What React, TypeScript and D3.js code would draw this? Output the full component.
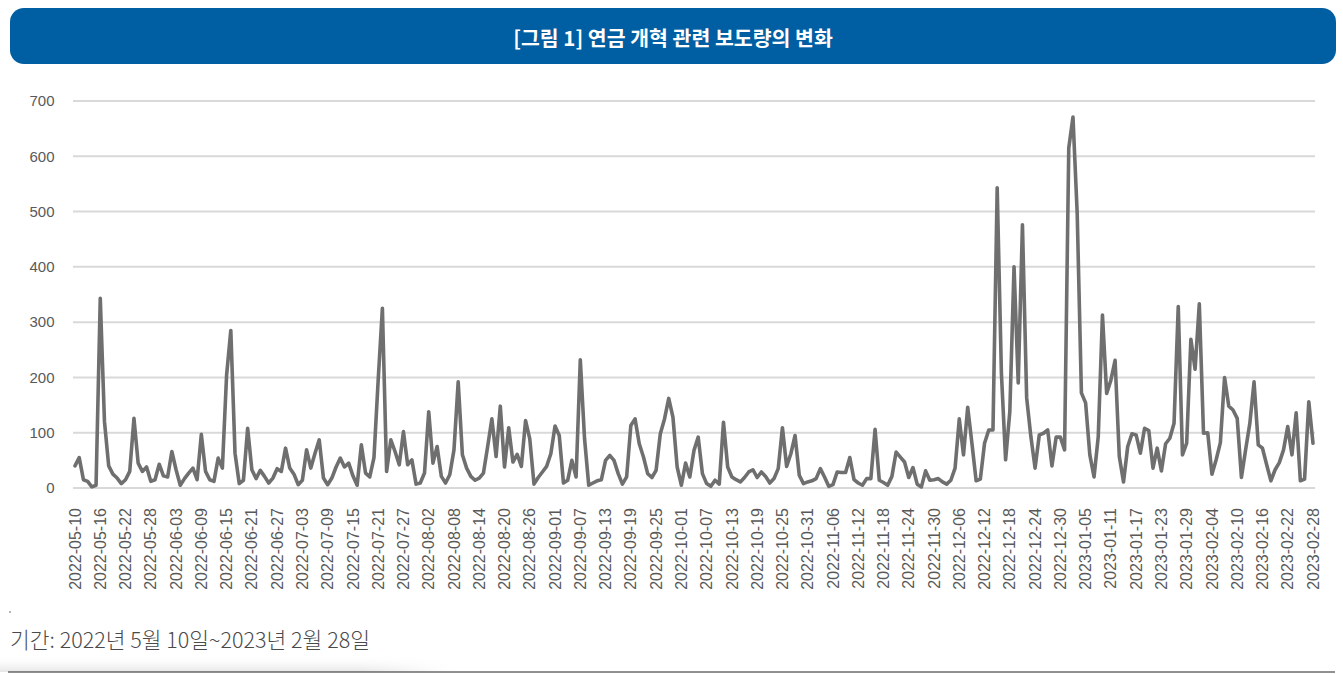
import React from "react";
import * as d3 from "d3";

const START_DATE = "2022-05-10";
const END_DATE = "2023-02-28";
const TITLE = "[그림 1] 연금 개혁 관련 보도량의 변화";
const FOOTNOTE = "기간: 2022년 5월 10일~2023년 2월 28일";
const Y_TICKS = [0, 100, 200, 300, 400, 500, 600, 700];
const LABEL_STEP_DAYS = 6;

const VALUES_MAY_JUN = [40, 55, 15, 12, 2, 5, 343, 120, 40, 25, 18, 8, 15, 30, 126, 45, 30, 38, 12, 15, 43, 22, 20, 66, 33, 5, 17, 27, 36, 15, 97];
const VALUES_JUN_JUL = [30, 15, 12, 54, 36, 204, 285, 63, 8, 14, 108, 33, 17, 32, 21, 9, 18, 35, 30, 72, 36, 25, 6, 14, 69, 36, 63, 87, 18, 6, 18, 38];
const VALUES_JUL_AUG = [54, 38, 45, 22, 5, 78, 27, 20, 55, 195, 325, 30, 87, 66, 42, 102, 42, 51, 7, 9, 27, 138, 45, 75, 21, 9, 24, 69, 192, 60, 36, 21, 14, 18, 27, 75];
const VALUES_AUG_SEP = [125, 57, 148, 38, 109, 47, 61, 39, 122, 89, 7, 19, 29, 39, 62, 112, 95, 9, 14, 50, 20, 232, 90, 5, 9, 13, 15, 50, 59, 50, 26, 7, 20];
const VALUES_SEP_OCT = [113, 125, 80, 56, 26, 19, 32, 98, 125, 162, 128, 38, 5, 45, 20, 68, 92, 26, 8, 3, 14, 7, 119, 38, 20, 15, 11, 19, 29, 33, 19, 29, 21, 9];
const VALUES_OCT_DEC = [17, 35, 109, 39, 62, 95, 23, 8, 11, 13, 17, 35, 20, 3, 6, 29, 28, 28, 55, 15, 9, 5, 17, 17, 106, 14, 10, 5, 21, 65, 56, 47, 19, 37, 7, 2, 31, 14, 15, 17, 11, 7, 14];
const VALUES_DEC_JAN = [36, 125, 60, 146, 81, 13, 16, 81, 105, 105, 543, 208, 51, 138, 400, 190, 476, 163, 93, 36, 96, 99, 105, 40, 92, 92, 69, 615, 671, 497, 172, 154, 60];
const VALUES_JAN_FEB = [20, 93, 313, 171, 195, 231, 57, 11, 75, 98, 96, 63, 108, 104, 36, 72, 31, 80, 90, 117, 328, 60, 81, 269, 215, 333, 99, 100, 25, 51, 82, 200, 148, 141, 126, 19, 69, 117, 192, 78, 72, 42, 13, 33, 46, 69, 111, 60, 136, 13, 16, 156, 81];

const VALUES = [
  ...VALUES_MAY_JUN,
  ...VALUES_JUN_JUL,
  ...VALUES_JUL_AUG,
  ...VALUES_AUG_SEP,
  ...VALUES_SEP_OCT,
  ...VALUES_OCT_DEC,
  ...VALUES_DEC_JAN,
  ...VALUES_JAN_FEB,
];

const parse = d3.utcParse("%Y-%m-%d");
const fmt = d3.utcFormat("%Y-%m-%d");
const DATES = d3.utcDay.range(parse(START_DATE) as Date, d3.utcDay.offset(parse(END_DATE) as Date, 1));

export default function App() {
  const W = 1343;
  const H = 674;
  const x = d3.scaleUtc().domain([DATES[0], DATES[DATES.length - 1]]).range([75, 1313]);
  const y = d3.scaleLinear().domain([0, 700]).range([488, 101]);
  const data = DATES.map((d, i) => ({ d, v: VALUES[i] ?? 0 }));
  const line = d3
    .line<{ d: Date; v: number }>()
    .x((p) => x(p.d))
    .y((p) => y(p.v));
  const labelDates = DATES.filter((_, i) => i % LABEL_STEP_DAYS === 0);
  const font = "'Noto Sans CJK KR', 'Noto Sans', sans-serif";
  const axisFont = "'Liberation Sans', Arial, sans-serif";

  return (
    <div style={{ position: "absolute", left: 0, top: 0, width: W, height: H, background: "#fff" }}>
      <svg width={W} height={H} viewBox={`0 0 ${W} ${H}`} style={{ display: "block" }}>
        <defs>
          <linearGradient id="footShade" x1="0" y1="0" x2="0" y2="1">
            <stop offset="0" stopColor="#ffffff" stopOpacity="0" />
            <stop offset="1" stopColor="#e6e6e6" stopOpacity="1" />
          </linearGradient>
          <linearGradient id="footShadeH" x1="0" y1="0" x2="1" y2="0">
            <stop offset="0" stopColor="#fff" stopOpacity="0" />
            <stop offset="0.8" stopColor="#fff" stopOpacity="0" />
            <stop offset="1" stopColor="#fff" stopOpacity="1" />
          </linearGradient>
        </defs>
        <rect x={0} y={0} width={W} height={H} fill="#ffffff" />
        <rect x={10} y={8} width={1326} height={56} rx={14} ry={14} fill="#005ea2" />
        <text x={673} y={37} fill="#ffffff" fontFamily={font} fontWeight={700} fontSize={20.5} textAnchor="middle" dominantBaseline="central">
          {TITLE}
        </text>

        {Y_TICKS.map((t) => (
          <g key={t}>
            <line x1={73} x2={1315} y1={y(t)} y2={y(t)} stroke="#d9d9d9" strokeWidth={2} />
            <text x={54.5} y={y(t)} dy="0.35em" textAnchor="end" fontFamily={axisFont} fontSize={15} fill="#595959">
              {t}
            </text>
          </g>
        ))}

        <path d={line(data) ?? ""} fill="none" stroke="#6f6f6f" strokeWidth={3.6} strokeLinejoin="round" strokeLinecap="round" />

        {labelDates.map((d) => (
          <text
            key={fmt(d)}
            transform={`translate(${x(d)},508) rotate(-90)`}
            dy="0.35em"
            textAnchor="end"
            fontFamily={axisFont}
            fontSize={16}
            fill="#595959"
          >
            {fmt(d)}
          </text>
        ))}

        <circle cx={10} cy={612} r={0.8} fill="#555" />
        <text x={10} y={648} fontFamily={font} fontSize={21.5} fill="#4a4a4a" fontWeight={300}>
          {FOOTNOTE}
        </text>
        <rect x={0} y={655} width={450} height={17} fill="url(#footShade)" />
        <rect x={0} y={655} width={450} height={17} fill="url(#footShadeH)" />
        <line x1={8} x2={1335} y1={672} y2={672} stroke="#222" strokeWidth={1} />
      </svg>
    </div>
  );
}
